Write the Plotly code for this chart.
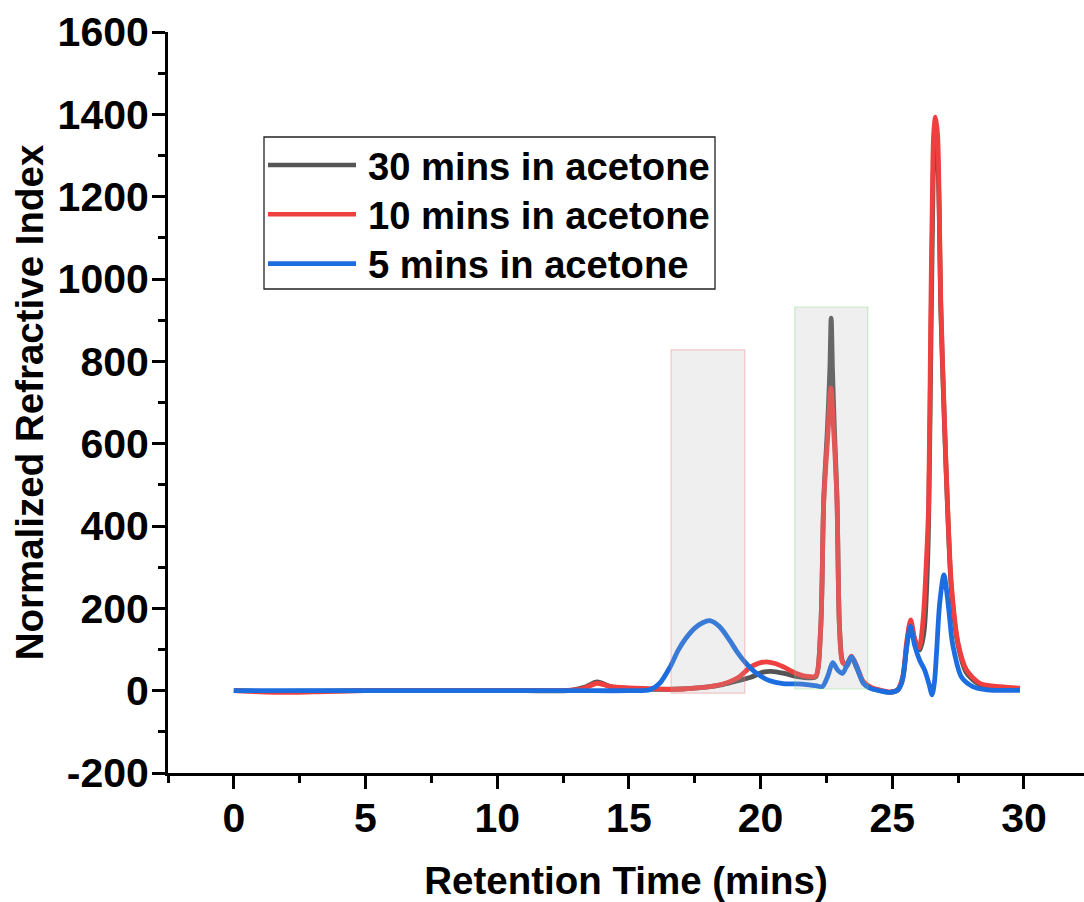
import plotly.graph_objects as go

# Retention time (min) and normalized RI signal for each soaking time
t_30 = [0, 1.5, 3, 5, 8, 11, 12.8, 13.3, 13.8, 14.3, 15.0, 16.0, 17.0, 18.0, 18.5,
        19.0, 19.6, 20.1, 20.4, 20.9, 21.4, 21.9, 22.1, 22.28, 22.40, 22.54, 22.63,
        22.68, 22.73, 22.8, 22.9, 23.0, 23.12, 23.28, 23.45, 23.65, 23.9, 24.2, 24.5,
        24.9, 25.2, 25.4, 25.55, 25.7, 25.85, 26.04, 26.2, 26.35, 26.46, 26.53, 26.58,
        26.65, 26.72, 26.78, 26.84, 26.98, 27.12, 27.25, 27.5, 27.8, 28.3, 28.8, 29.85]
ri_30 = [0, -2, -1, 0, 0, 0, 1, 8, 21, 10, 5, 3, 4, 9, 14,
         22, 32, 45, 47, 42, 34, 31, 34, 150, 470, 640, 780,
         905, 780, 640, 470, 150, 70, 60, 82, 55, 20, 6, 1,
         -4, 1, 30, 110, 165, 125, 99, 140, 330, 800, 1150, 1300,
         1340, 1300, 1170, 930, 650, 410, 240, 110, 45, 15, 8, 4]

t_10 = [0, 1.5, 3, 5, 8, 11, 12.8, 13.3, 13.8, 14.3, 15.0, 15.9, 16.6, 17.05, 17.6,
        18.07, 18.5, 18.83, 19.2, 19.59, 19.9, 20.22, 20.55, 20.86, 21.36, 21.87, 22.1,
        22.28, 22.40, 22.56, 22.67, 22.78, 22.90, 23.0, 23.12, 23.28, 23.45, 23.65, 23.9,
        24.2, 24.5, 24.9, 25.2, 25.4, 25.55, 25.7, 25.85, 26.02, 26.17, 26.3, 26.38,
        26.46, 26.52, 26.57, 26.64, 26.72, 26.78, 26.84, 26.98, 27.12, 27.25, 27.5, 27.82,
        28.32, 28.7, 29.85]
ri_10 = [0, -4, -3, 0, 0, 0, 1, 6, 18, 10, 7, 5, 3, 4, 7,
         10, 15, 22, 34, 56, 66, 70, 66, 58, 42, 34, 36,
         147, 463, 626, 735, 626, 463, 147, 68, 66, 84, 60, 22,
         8, 2, -3, 2, 35, 120, 172, 125, 104, 172, 320, 450,
         900, 1190, 1350, 1393, 1350, 1190, 949, 660, 415, 253, 115, 50,
         18, 12, 6]

t_5 = [0, 3, 6, 10, 13, 15.0, 15.8, 16.17, 16.55, 16.87, 17.15, 17.5, 17.8, 18.07, 18.45,
       18.83, 19.1, 19.4, 19.85, 20.35, 20.85, 21.6, 22.1, 22.35, 22.55, 22.74, 22.93,
       23.11, 23.28, 23.45, 23.65, 23.9, 24.15, 24.5, 24.9, 25.2, 25.36, 25.55, 25.69,
       25.85, 26.04, 26.23, 26.4, 26.51, 26.6, 26.68, 26.8, 26.96, 27.12, 27.25, 27.31,
       27.62, 28.06, 28.6, 29.85]
ri_5 = [0, 0, 0, 0, 0, 0, 2, 18, 56, 98, 126, 152, 165, 170, 155,
        122, 95, 70, 42, 24, 17, 16, 12, 10, 35, 68, 50,
        42, 62, 82, 58, 18, 6, 0, -4, 1, 19, 107, 157,
        110, 74, 50, 15, -10, 20, 91, 212, 281, 212, 131, 107,
        34, 10, 2, 1]

series_names = ["30 mins in acetone", "10 mins in acetone", "5 mins in acetone"]
series_colors = ["#555555", "#EF4040", "#1C6EE0"]

# Highlighted retention windows: (t_start, t_end, ri_low, ri_high)
window_a = (16.6, 19.4, -6, 828)
window_b = (21.3, 24.07, 4, 932)

x_ticks = [0, 5, 10, 15, 20, 25, 30]
y_ticks = [-200, 0, 200, 400, 600, 800, 1000, 1200, 1400, 1600]
y_tick_text = ["-200", "0", "200", "400", "600", "800", "1000", "1200", "1400", "1600"]

W, H = 1084, 902
ML, MR, MT, MB = 168, 0, 32, 129
X_RANGE = [-2.5, 32.28]
Y_RANGE = [-200, 1600]

FONT = "Liberation Sans, Arial, sans-serif"

fig = go.Figure()
for t, ri, name, col in zip([t_30, t_10, t_5], [ri_30, ri_10, ri_5], series_names, series_colors):
    fig.add_trace(go.Scatter(
        x=t, y=ri, mode="lines", name=name, showlegend=False,
        line=dict(color=col, width=4.8, shape="spline", smoothing=0.8),
    ))

# translucent highlight boxes over the traces
for (x0, x1, y0, y1), edge in [(window_a, "rgba(240,110,110,0.35)"),
                               (window_b, "rgba(110,215,110,0.35)")]:
    fig.add_shape(type="rect", xref="x", yref="y", x0=x0, x1=x1, y0=y0, y1=y1,
                  fillcolor="rgba(176,176,176,0.2)", line=dict(color=edge, width=1.2),
                  layer="above")


def px_x(p):
    return (p - ML) / (W - ML - MR)


def px_y(p):
    return (H - MB - p) / (H - MT - MB)


# legend box drawn by hand so the line samples can be long
fig.add_shape(type="rect", xref="paper", yref="paper",
              x0=px_x(264), x1=px_x(715), y0=px_y(289), y1=px_y(137),
              line=dict(color="#222222", width=1.3), fillcolor="rgba(0,0,0,0)",
              layer="above")
for i, (name, col) in enumerate(zip(series_names, series_colors)):
    yc = 165 + i * 49.3
    fig.add_shape(type="line", xref="paper", yref="paper",
                  x0=px_x(268), x1=px_x(356), y0=px_y(yc), y1=px_y(yc),
                  line=dict(color=col, width=4.6), layer="above")
    fig.add_annotation(xref="paper", yref="paper", x=px_x(366), y=px_y(yc + 1),
                       text=name, showarrow=False, xanchor="left", yanchor="middle",
                       font=dict(family=FONT, size=38.2, color="black", weight="bold"))

axis_common = dict(
    showline=True, linecolor="black", linewidth=3, mirror=False,
    ticks="outside", ticklen=13, tickwidth=3, tickcolor="black",
    showgrid=False, zeroline=False,
    tickfont=dict(family=FONT, size=41, color="black", weight="bold"),
)

fig.update_xaxes(
    range=X_RANGE, tickvals=x_ticks, ticklabelstandoff=-6,
    minor=dict(ticks="outside", ticklen=7, tickwidth=3, tickcolor="black",
               tick0=-2.5, dtick=5),
    title=dict(text="Retention Time (mins)", standoff=32,
               font=dict(family=FONT, size=38.5, color="black", weight="bold")),
    **axis_common,
)
fig.update_yaxes(
    range=Y_RANGE, tickvals=y_ticks, ticktext=y_tick_text, ticklabelstandoff=-5,
    minor=dict(ticks="outside", ticklen=7, tickwidth=3, tickcolor="black",
               tick0=-100, dtick=200),
    title=dict(text="Normalized Refractive Index", standoff=3,
               font=dict(family=FONT, size=38.5, color="black", weight="bold")),
    **axis_common,
)

fig.update_layout(
    width=W, height=H,
    margin=dict(l=ML, r=MR, t=MT, b=MB, autoexpand=False),
    plot_bgcolor="white", paper_bgcolor="white",
    showlegend=False,
)

fig.write_html("out.html")
